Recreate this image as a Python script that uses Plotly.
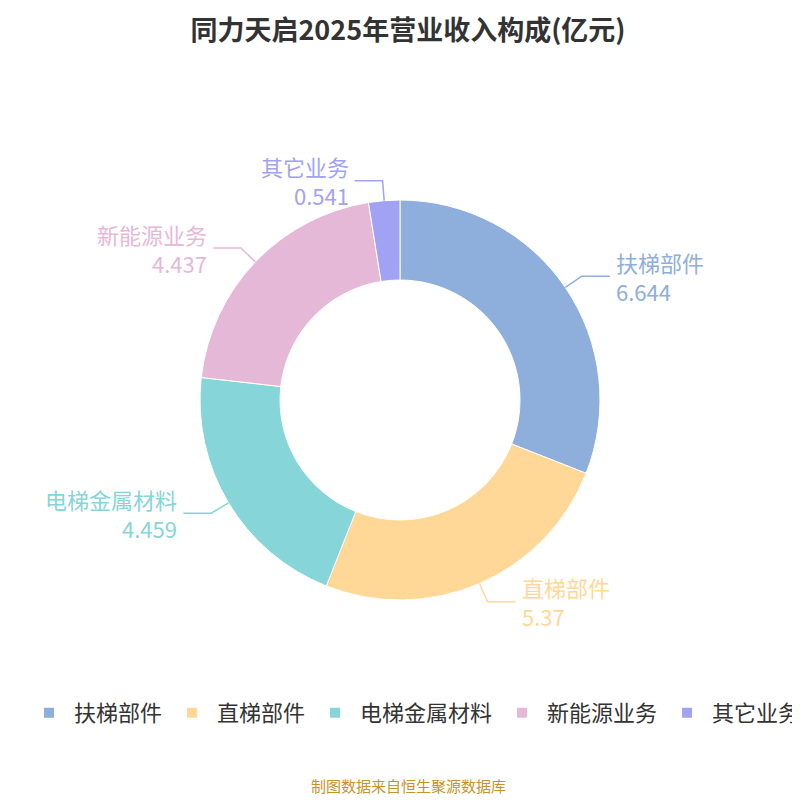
import math
import plotly.graph_objects as go

labels = ["扶梯部件", "直梯部件", "电梯金属材料", "新能源业务", "其它业务"]
values = [6.644, 5.37, 4.459, 4.437, 0.541]
value_text = ["6.644", "5.37", "4.459", "4.437", "0.541"]
colors = ["#8eaedb", "#ffd897", "#86d5d8", "#e6b8d7", "#a2a2f5"]

fig = go.Figure()
fig.add_pie(
    labels=labels, values=values, hole=0.6, sort=False, direction="clockwise",
    rotation=0, marker=dict(colors=colors, line=dict(color="white", width=1)),
    textinfo="none", hoverinfo="label+value",
    domain=dict(x=[0.24, 0.74], y=[0.26, 0.76]),
)

# leader lines and outside labels computed from the values
cx, cy, r = 0.49, 0.51, 0.25
total = sum(values)
acc = 0
shapes, annotations = [], []
for lab, v, vt, c in zip(labels, values, value_text, colors):
    mid = (acc + v / 2) / total * 2 * math.pi
    acc += v
    x0, y0 = cx + r * math.sin(mid), cy + r * math.cos(mid)
    x1, y1 = cx + r * 1.1 * math.sin(mid), cy + r * 1.1 * math.cos(mid)
    side = 1 if math.sin(mid) >= 0 else -1
    x2 = x1 + side * 0.035
    shapes.append(dict(type="path", xref="paper", yref="paper",
                       path=f"M {x0},{y0} L {x1},{y1} L {x2},{y1}",
                       line=dict(color=c, width=1.5)))
    annotations.append(dict(
        x=x2 + side * 0.005, y=y1, xref="paper", yref="paper",
        xanchor="left" if side > 0 else "right", yanchor="middle",
        align="left" if side > 0 else "right",
        text=f"{lab}<br>{vt}", showarrow=False,
        font=dict(size=22, color=c)))

annotations.append(dict(x=0.5, y=0.013, xref="paper", yref="paper", showarrow=False,
                        text="制图数据来自恒生聚源数据库",
                        font=dict(size=15, color="#c8922a")))

fig.update_layout(
    width=800, height=800, margin=dict(l=0, r=0, t=0, b=0),
    paper_bgcolor="white",
    font=dict(family="Noto Sans CJK SC"),
    title=dict(text="<b>同力天启2025年营业收入构成(亿元)</b>", x=0.5, y=0.972,
               xanchor="center", yanchor="middle",
               font=dict(size=27, color="#333333")),
    shapes=shapes, annotations=annotations,
    legend=dict(orientation="h", x=0.02, y=0.145, xanchor="left", yanchor="top",
                font=dict(size=22, color="#333333"), itemsizing="constant",
                traceorder="normal", itemwidth=40),
)

fig.write_html("out.html")
